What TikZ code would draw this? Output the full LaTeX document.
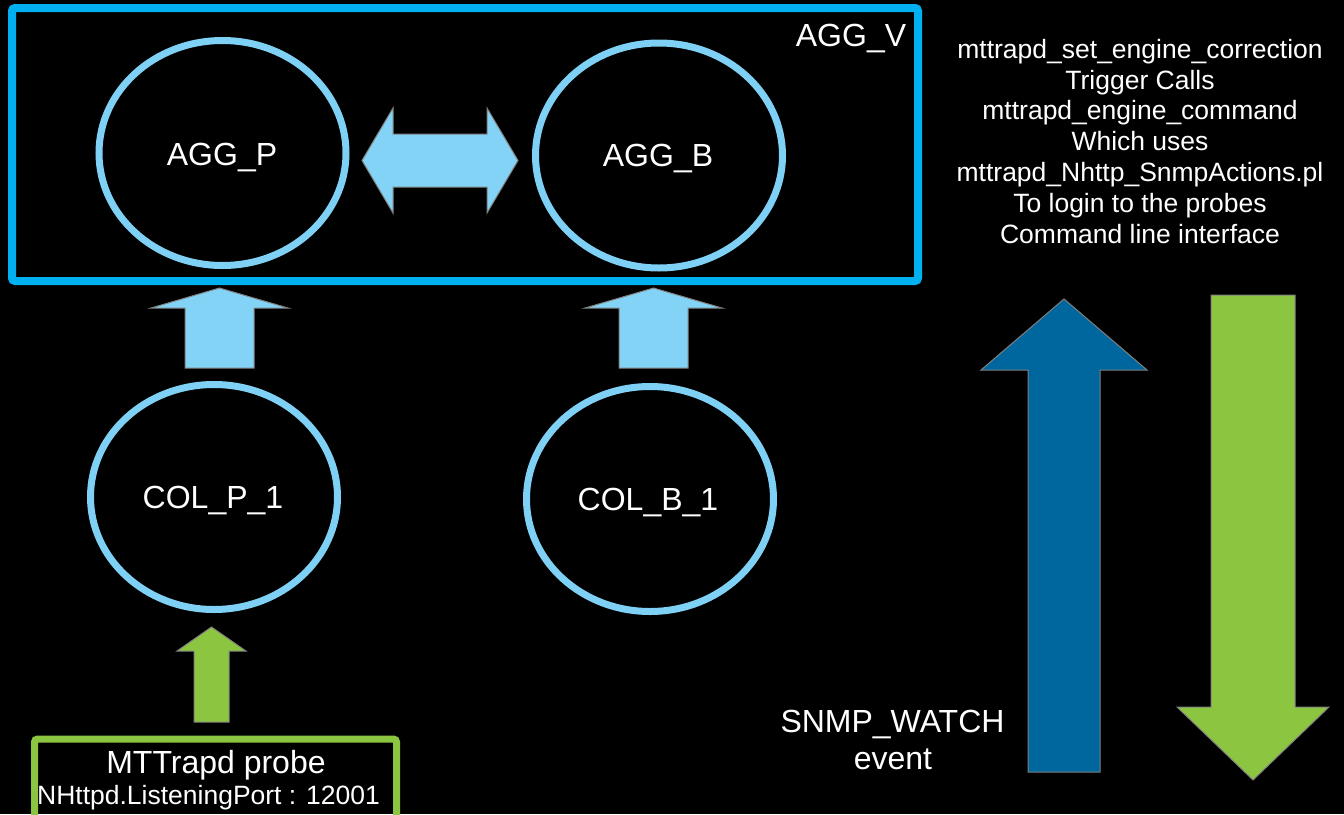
\documentclass[tikz,border=0pt]{standalone}
\usepackage{fontspec}
\setmainfont{Liberation Sans}
\usetikzlibrary{shapes.geometric}

\definecolor{frameblue}{HTML}{00B0F0}
\definecolor{ringblue}{HTML}{7FD0F5}
\definecolor{paleblue}{HTML}{83D3F6}
\definecolor{deepblue}{HTML}{00669E}
\definecolor{leafgreen}{HTML}{8CC540}
\definecolor{rimgray}{HTML}{808080}

\tikzset{
  frame/.style={draw=frameblue, line width=8pt, rounded corners=3pt, inner sep=0pt},
  ring/.style={ellipse, draw=ringblue, line width=7pt, inner sep=0pt,
               minimum width=247pt, minimum height=225pt},
  probebox/.style={draw=leafgreen, line width=7pt, rounded corners=3pt, inner sep=0pt},
  big/.style={text=white, font=\fontsize{32}{36.8}\selectfont, inner sep=0pt},
  small/.style={text=white, font=\fontsize{26.5}{30.8}\selectfont, inner sep=0pt},
  paleflow/.style={fill=paleblue, draw=rimgray, line width=1pt},
  deepflow/.style={fill=deepblue, draw=rimgray, line width=1pt},
  greenflow/.style={fill=leafgreen, draw=rimgray, line width=1pt},
}

\begin{document}
\begin{tikzpicture}[x=1pt, y=-1pt]
  \useasboundingbox (0,0) rectangle (1344,814);
  \fill[black] (0,0) rectangle (1344,814);

  % virtual aggregation frame
  \node[frame, minimum width=906pt, minimum height=273pt] (aggv) at (465,144.5) {};
  \node[big, anchor=base] (aggvlabel) at (851,46.7) {AGG\_V};

  % aggregation and collection layers
  \node[ring] (aggp) at (222.5,153) {};
  \node[ring] (aggb) at (659,155.5) {};
  \node[ring] (colp) at (214,497) {};
  \node[ring] (colb) at (650,499) {};
  \node[big, anchor=base] (aggptext) at (222,165) {AGG\_P};
  \node[big, anchor=base] (aggbtext) at (658,166.5) {AGG\_B};
  \node[big, anchor=base] (colptext) at (213,508.5) {COL\_P\_1};
  \node[big, anchor=base] (colbtext) at (648,510) {COL\_B\_1};

  % two-way link between the aggregators
  \draw[paleflow] (362,160.5) -- (393,108) -- (393,134) -- (487,134) -- (487,108)
    -- (518,160.5) -- (487,213) -- (487,187) -- (393,187) -- (393,213) -- cycle;

  % collectors feed the aggregators
  \draw[paleflow] (185,368) -- (185,308) -- (151,308) -- (219.5,288) -- (288,308)
    -- (254,308) -- (254,368) -- cycle;
  \draw[paleflow] (619,368) -- (619,308) -- (585,308) -- (653.5,288) -- (722,308)
    -- (688,308) -- (688,368) -- cycle;

  % probe feeds the primary collector
  \draw[greenflow] (194,722) -- (194,651) -- (177,651) -- (211.5,627) -- (246,651)
    -- (229,651) -- (229,722) -- cycle;

  % probe box
  \node[probebox, minimum width=362pt, minimum height=91pt] (probe) at (215.5,784.5) {};
  \node[big, anchor=base] (probetitle) at (216,773) {MTTrapd probe};
  \node[small, anchor=base] (probeport) at (208.5,804) {NHttpd.ListeningPort : 12001};

  % event flow on the right
  \draw[deepflow] (1028,772) -- (1028,370) -- (981,370) -- (1064,299) -- (1147,370)
    -- (1100,370) -- (1100,772) -- cycle;
  \draw[greenflow] (1211,295) -- (1295,295) -- (1295,707) -- (1329,707) -- (1253,780)
    -- (1177,707) -- (1211,707) -- cycle;

  \node[big, anchor=base] (snmp1) at (892.5,732.3) {SNMP\_WATCH};
  \node[big, anchor=base] (snmp2) at (893,769.3) {event};

  % correction chain description
  \node[small, anchor=base] (c1) at (1140,58.3) {mttrapd\_set\_engine\_correction};
  \node[small, anchor=base] (c2) at (1140,89.1) {Trigger Calls};
  \node[small, anchor=base] (c3) at (1140,119.9) {mttrapd\_engine\_command};
  \node[small, anchor=base] (c4) at (1140,150.7) {Which uses};
  \node[small, anchor=base] (c5) at (1140,181.5) {mttrapd\_Nhttp\_SnmpActions.pl};
  \node[small, anchor=base] (c6) at (1140,212.3) {To login to the probes};
  \node[small, anchor=base] (c7) at (1140,243.1) {Command line interface};
\end{tikzpicture}
\end{document}
